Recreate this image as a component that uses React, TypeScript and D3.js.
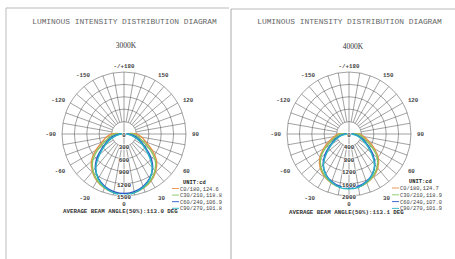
import React from "react";
import * as d3 from "d3";

// gamma angles (degrees), 0 = straight down
const gammas = [-90, -80, -70, -60, -50, -40, -30, -20, -10, 0, 10, 20, 30, 40, 50, 60, 70, 80, 90];

// 3000K intensities (cd)
const c0_3000 = [300, 430, 560, 790, 1030, 1190, 1310, 1390, 1435, 1450, 1435, 1390, 1310, 1190, 1030, 790, 560, 430, 300];
const c30_3000 = [230, 330, 470, 710, 990, 1165, 1295, 1385, 1440, 1460, 1440, 1385, 1295, 1165, 990, 710, 470, 330, 230];
const c60_3000 = [100, 240, 380, 560, 830, 1080, 1240, 1350, 1415, 1440, 1415, 1350, 1240, 1080, 830, 560, 380, 240, 100];
const c90_3000 = [60, 180, 330, 520, 770, 1060, 1250, 1370, 1445, 1470, 1445, 1370, 1250, 1060, 770, 520, 330, 180, 60];

// 4000K intensities (cd)
const c0_4000 = [340, 480, 680, 950, 1240, 1440, 1580, 1680, 1730, 1750, 1730, 1680, 1580, 1440, 1240, 950, 680, 480, 340];
const c30_4000 = [280, 400, 570, 860, 1195, 1405, 1560, 1670, 1740, 1760, 1740, 1670, 1560, 1405, 1195, 860, 570, 400, 280];
const c60_4000 = [120, 290, 460, 680, 1000, 1300, 1500, 1630, 1710, 1740, 1710, 1630, 1500, 1300, 1000, 680, 460, 290, 120];
const c90_4000 = [70, 220, 400, 630, 930, 1280, 1510, 1650, 1745, 1770, 1745, 1650, 1510, 1280, 930, 630, 400, 220, 70];

const rings3000 = [300, 600, 900, 1200, 1500];
const rings4000 = [400, 800, 1200, 1600, 2000];

const angleLabels = [180, -150, 150, -120, 120, -90, 90, -60, 60, -30, 30, 0];

const legend3000 = ["C0/180,124.6", "C30/210,118.8", "C60/240,106.9", "C90/270,101.8"];
const legend4000 = ["C0/180,124.7", "C30/210,118.9", "C60/240,107.0", "C90/270,101.9"];

const beam3000 = "AVERAGE BEAM ANGLE(50%):113.0 DEG";
const beam4000 = "AVERAGE BEAM ANGLE(50%):113.1 DEG";

const colors = ["#e8904a", "#86c860", "#2a58c8", "#2cb4c4"];
const MONO = "'Liberation Mono', 'DejaVu Sans Mono', monospace";

type PanelProps = {
  cx: number; cy: number; R: number;
  titleX: number; subX: number; subY: number; subtitle: string;
  rings: number[]; series: number[][]; legend: string[]; beam: string;
  legX: number; unitX: number; legY: number; legDy: number; beamX: number; beamY: number;
};

function Panel(p: PanelProps) {
  const { cx, cy, R, rings, series } = p;
  const max = rings[rings.length - 1];
  const r = d3.scaleLinear().domain([0, max]).range([0, R]);
  const toRad = (deg: number) => (deg * Math.PI) / 180;
  const spokes = d3.range(-180, 180, 10);
  const line = d3
    .lineRadial<[number, number]>()
    .angle((d) => Math.PI - toRad(d[0]))
    .radius((d) => r(d[1]))
    .curve(d3.curveCatmullRom.alpha(0.5));

  return (
    <g>
      <text x={p.titleX} y={24} textAnchor="middle" fontFamily={MONO} fontSize={7.9} fill="#666">
        LUMINOUS INTENSITY DISTRIBUTION DIAGRAM
      </text>
      <text x={p.subX} y={p.subY} textAnchor="middle" fontFamily="'Liberation Serif', serif" fontSize={7.5} fill="#333">
        {p.subtitle}
      </text>
      <g transform={`translate(${cx},${cy})`}>
        {rings.map((v) => (
          <circle key={v} r={r(v)} fill="none" stroke="#555" strokeWidth={0.55} />
        ))}
        {spokes.map((a) => {
          const r0 = a % 90 === 0 ? 0 : r(rings[0]);
          const s = Math.sin(toRad(a));
          const c = Math.cos(toRad(a));
          return (
            <line key={a} x1={r0 * s} y1={r0 * c} x2={R * s} y2={R * c} stroke="#555" strokeWidth={0.55} />
          );
        })}
        {series.map((vals, i) => {
          const pts: [number, number][] = [[-90, 0], ...gammas.map((g, k) => [g, vals[k]] as [number, number]), [90, 0]];
          return <path key={i} d={line(pts) || ""} fill="none" stroke={colors[i]} strokeWidth={1.4} />;
        })}
        {[0, ...rings].map((v) => (
          <text key={v} x={0} y={r(v) + 3} textAnchor="middle" fontFamily={MONO} fontSize={5.8} fontWeight="bold"
            fill="#333" stroke="#fff" strokeWidth={1.4} paintOrder="stroke">
            {v}
          </text>
        ))}
        {angleLabels.map((a) => {
          const s = Math.sin(toRad(a));
          const c = Math.cos(toRad(a));
          const rr = R + 6;
          const x = rr * s;
          let y = rr * c + 6 * Math.max(c, 0) + 2;
          let anchor = "middle";
          if (s > 0.3) anchor = "start";
          else if (s < -0.3) anchor = "end";
          if (a === 180) y = -R - 4;
          if (a === 0) y = R + 10;
          const label = a === 180 ? "-/+180" : String(a);
          return (
            <text key={a} x={x} y={y} textAnchor={anchor} fontFamily={MONO} fontSize={5.8} fontWeight="bold" fill="#444">
              {label}
            </text>
          );
        })}
      </g>
      <text x={p.unitX} y={p.legY - 7} fontFamily={MONO} fontSize={5.4} fontWeight="bold" fill="#222">
        UNIT:cd
      </text>
      {p.legend.map((t, i) => (
        <g key={t}>
          <line x1={p.legX - 8} x2={p.legX - 1} y1={p.legY + i * p.legDy - 2} y2={p.legY + i * p.legDy - 2}
            stroke={colors[i]} strokeWidth={0.9} />
          <text x={p.legX} y={p.legY + i * p.legDy} fontFamily={MONO} fontSize={5.4} fill="#444">
            {t}
          </text>
        </g>
      ))}
      <text x={p.beamX} y={p.beamY} fontFamily={MONO} fontSize={5.8} fontWeight="bold" fill="#333">
        {p.beam}
      </text>
    </g>
  );
}

export default function App() {
  return (
    <svg width={455} height={259} style={{ position: "absolute", left: 0, top: 0, background: "#fff" }}>
      <rect x={0} y={0} width={455} height={259} fill="#fff" />
      <line x1={6} y1={8} x2={229} y2={8} stroke="#bbb" strokeWidth={1} />
      <line x1={6} y1={8} x2={6} y2={259} stroke="#bbb" strokeWidth={1} />
      <line x1={231} y1={9} x2={455} y2={9} stroke="#bbb" strokeWidth={1} />
      <line x1={231} y1={9} x2={231} y2={259} stroke="#aaa" strokeWidth={1} />
      <Panel cx={124} cy={134} R={62} titleX={124.5} subX={126} subY={48} subtitle="3000K"
        rings={rings3000} series={[c0_3000, c30_3000, c60_3000, c90_3000]} legend={legend3000} beam={beam3000}
        legX={180} unitX={183} legY={190.5} legDy={6.6} beamX={63} beamY={213} />
      <Panel cx={349} cy={134} R={62} titleX={349.5} subX={353} subY={49} subtitle="4000K"
        rings={rings4000} series={[c0_4000, c30_4000, c60_4000, c90_4000]} legend={legend4000} beam={beam4000}
        legX={400} unitX={409} legY={190} legDy={6.8} beamX={289} beamY={214} />
    </svg>
  );
}
